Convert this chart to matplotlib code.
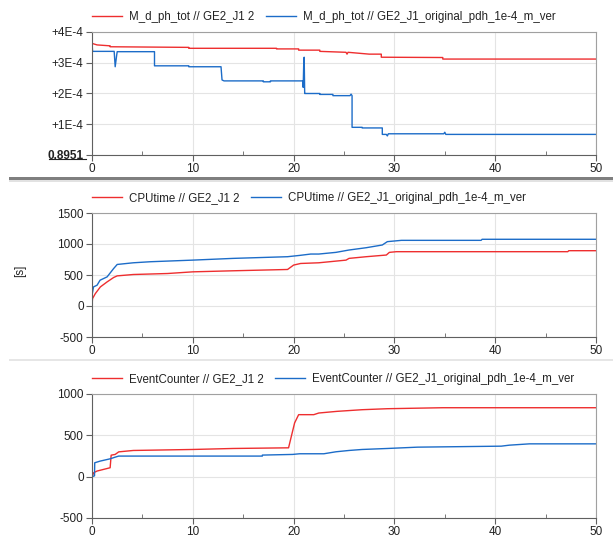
import matplotlib
matplotlib.use("Agg")
import matplotlib.pyplot as plt
from matplotlib.patches import Rectangle
from matplotlib.lines import Line2D
from matplotlib.ticker import MultipleLocator

plt.rcParams['font.family'] = ['Liberation Sans', 'DejaVu Sans']
plt.rcParams['font.size'] = 8.5
plt.rcParams['axes.unicode_minus'] = False

RED = '#ee2e2f'
BLUE = '#1c6cc8'

# panel 1: M_d_ph_tot, offset from 0.8951 in units of 1e-4
t_m_red = [0, 0.3, 0.5, 1.8, 1.8, 9.6, 9.6, 18.3, 18.3, 20.5, 20.5, 22.6, 22.6, 25.2, 25.3, 25.4,
           27.5, 28.7, 28.7, 34.8, 34.8, 50]
m_red = [3.63, 3.60, 3.58, 3.55, 3.52, 3.50, 3.47, 3.47, 3.45, 3.45, 3.41, 3.41, 3.37, 3.34, 3.28, 3.34,
         3.28, 3.28, 3.18, 3.17, 3.12, 3.12]
t_m_blue = [0, 0.05, 0.1, 2.2, 2.3, 2.45, 2.5, 2.6, 6.2, 6.2, 9.6, 9.6, 12.8, 12.9, 13.1, 17.0, 17.0, 17.7,
            17.7, 20.9, 20.95, 21.0, 21.05, 21.1, 21.15, 22.6, 22.6, 23.9, 23.9, 25.6, 25.7, 25.8, 25.8,
            26.8, 26.8, 28.8, 28.8, 29.2, 29.3, 29.4, 34.9, 35.0, 35.1, 50]
m_blue = [3.68, 3.39, 3.37, 3.37, 2.87, 3.25, 3.36, 3.36, 3.36, 2.90, 2.90, 2.87, 2.87, 2.44, 2.41, 2.41,
          2.38, 2.38, 2.41, 2.41, 2.20, 2.90, 3.18, 2.00, 2.00, 2.00, 1.97, 1.97, 1.93, 1.93, 1.98, 1.93,
          0.90, 0.90, 0.88, 0.88, 0.67, 0.67, 0.62, 0.69, 0.69, 0.74, 0.67, 0.67]
m_ticks = [0, 1, 2, 3, 4]
m_ticklabels = ['0.8951', '+1E-4', '+2E-4', '+3E-4', '+4E-4']

# panel 2: CPUtime [s]
t_cpu_red = [0, 0.05, 0.33, 0.83, 1.5, 2.15, 2.5, 4.1, 7.5, 10, 14, 19.4, 20, 20.7, 22.5, 25.2, 25.5,
             27.2, 29.2, 29.5, 30.2, 47.2, 47.3, 50]
cpu_red = [0, 119, 200, 308, 389, 460, 486, 508, 524, 551, 568, 589, 660, 686, 697, 740, 768,
           795, 822, 865, 876, 876, 892, 892]
t_cpu_blue = [0, 0.03, 0.15, 0.5, 0.8, 1.5, 2.15, 2.5, 4.1, 5.8, 10, 14, 19.4, 20.6, 21.7, 22.5, 24.2,
              25.5, 27.2, 28.8, 29.3, 30.7, 38.6, 38.7, 50]
cpu_blue = [0, 200, 308, 335, 416, 470, 605, 670, 697, 714, 740, 768, 795, 816, 838, 838, 865,
            903, 940, 984, 1038, 1059, 1059, 1076, 1076]

# panel 3: EventCounter
t_ev_red = [0, 0.17, 0.5, 1.8, 1.9, 2.3, 2.65, 4.1, 10, 14, 19.5, 19.8, 20.1, 20.5, 22.0, 22.5, 24.3,
            26.8, 29.3, 34.8, 50]
ev_red = [0, 48, 68, 108, 260, 269, 300, 317, 329, 341, 349, 500, 650, 750, 750, 770, 790,
          810, 822, 834, 834]
t_ev_blue = [0, 0.25, 0.27, 0.8, 1.8, 2.3, 2.65, 16.9, 16.9, 19.9, 20.6, 23.0, 24.2, 25.5, 26.8, 29.3,
             32.3, 40.6, 41.4, 43.4, 50]
ev_blue = [0, 10, 168, 188, 216, 236, 249, 249, 261, 269, 277, 277, 301, 317, 329, 341,
           357, 369, 381, 397, 397]

W, H = 613, 540
fig = plt.figure(figsize=(W / 100, H / 100), dpi=100)


def px_axes(top, bottom, left=92, right=596):
    return fig.add_axes([left / W, 1 - bottom / H, (right - left) / W, (bottom - top) / H])


def style(ax, ylim, yticks, labels=None):
    ax.set_xlim(0, 50)
    ax.set_ylim(*ylim)
    ax.set_xticks([0, 10, 20, 30, 40, 50])
    ax.xaxis.set_minor_locator(MultipleLocator(5))
    ax.set_yticks(yticks)
    if labels is not None:
        ax.set_yticklabels(labels)
    ax.grid(True, which='major', color='#e4e4e4', lw=0.8)
    ax.set_axisbelow(True)
    for s in ['top', 'right']:
        ax.spines[s].set_color('#a0a0a0')
    for s in ['left', 'bottom']:
        ax.spines[s].set_color('#606060')
    ax.tick_params(which='major', direction='out', length=4, color='#606060',
                   labelcolor='#222222', labelsize=8.5, pad=2)
    ax.tick_params(which='minor', direction='in', length=3, color='#606060')
    ax.tick_params(axis='y', which='minor', left=False)


def legend(ax, names):
    ax.legend(names, loc='lower left', bbox_to_anchor=(0, 1.075), ncol=2, frameon=False,
              borderaxespad=0, borderpad=0, handlelength=2.6, handletextpad=0.6,
              columnspacing=1.0, fontsize=8.3, labelcolor='#222222')


ax1 = px_axes(32, 155)
ax1.plot(t_m_red, m_red, color=RED, lw=1)
ax1.plot(t_m_blue, m_blue, color=BLUE, lw=1)
style(ax1, (0, 4), m_ticks, m_ticklabels)
ax1.get_yticklabels()[0].set_fontweight('bold')
legend(ax1, ['M_d_ph_tot // GE2_J1 2', 'M_d_ph_tot // GE2_J1_original_pdh_1e-4_m_ver'])
fig.add_artist(Line2D([49 / W, 86 / W], [1 - 159 / H, 1 - 159 / H], color='#222222', lw=0.8))

ax2 = px_axes(213, 337)
ax2.plot(t_cpu_red, cpu_red, color=RED, lw=1)
ax2.plot(t_cpu_blue, cpu_blue, color=BLUE, lw=1)
style(ax2, (-500, 1500), [-500, 0, 500, 1000, 1500])
legend(ax2, ['CPUtime // GE2_J1 2', 'CPUtime // GE2_J1_original_pdh_1e-4_m_ver'])
fig.text(20 / W, 1 - 271 / H, '[s]', rotation=90, ha='center', va='center', fontsize=8.5, color='#222222')

ax3 = px_axes(394, 518)
ax3.plot(t_ev_red, ev_red, color=RED, lw=1)
ax3.plot(t_ev_blue, ev_blue, color=BLUE, lw=1)
style(ax3, (-500, 1000), [-500, 0, 500, 1000])
legend(ax3, ['EventCounter // GE2_J1 2', 'EventCounter // GE2_J1_original_pdh_1e-4_m_ver'])

# separators between the panels
fig.add_artist(Rectangle((9 / W, 1 - 179.5 / H), 1, 2.5 / H, transform=fig.transFigure,
                         color='#7f7f7f', lw=0))
fig.add_artist(Rectangle((9 / W, 1 - 181.5 / H), 1, 2 / H, transform=fig.transFigure,
                         color='#e2e2e2', lw=0))
fig.add_artist(Rectangle((9 / W, 1 - 361 / H), 1, 2 / H, transform=fig.transFigure,
                         color='#e6e6e6', lw=0))

fig.savefig('out.png', dpi=100, facecolor='white')
